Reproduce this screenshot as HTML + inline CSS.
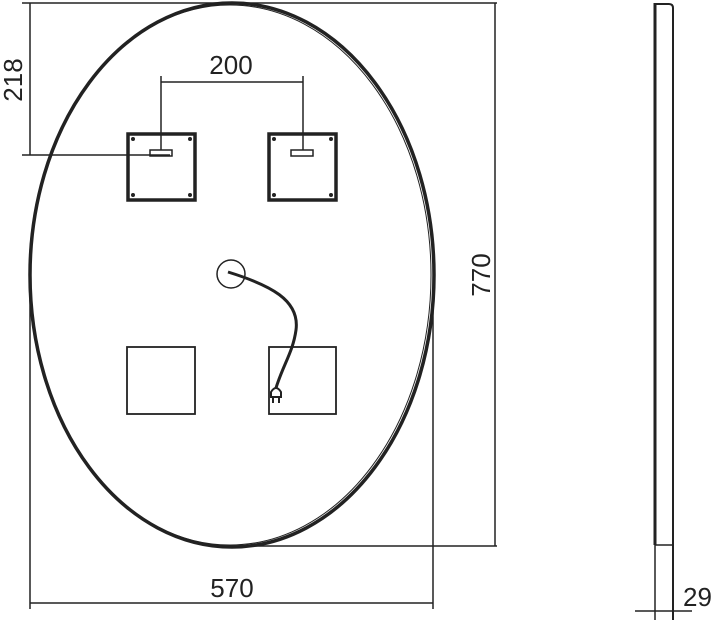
<!DOCTYPE html>
<html><head><meta charset="utf-8"><style>
html,body{margin:0;padding:0;background:#fff;width:715px;height:624px;overflow:hidden}
text{font-family:"Liberation Sans",sans-serif;fill:#222}
</style></head><body>
<svg width="715" height="624" viewBox="0 0 715 624" xmlns="http://www.w3.org/2000/svg">
<g stroke="#222" fill="none">
<!-- dimension lines -->
<g stroke-width="1.5">
<line x1="22" y1="3" x2="497" y2="3"/>
<line x1="495" y1="3" x2="495" y2="546"/>
<line x1="232" y1="546" x2="497" y2="546"/>
<line x1="30" y1="3" x2="30" y2="155"/>
<line x1="22" y1="155" x2="170" y2="155"/>
<line x1="30" y1="300" x2="30" y2="609"/>
<line x1="433" y1="300" x2="433" y2="609"/>
<line x1="30" y1="603" x2="433" y2="603"/>
<line x1="161" y1="82" x2="303" y2="82"/>
<line x1="161" y1="76" x2="161" y2="150"/>
<line x1="303" y1="76" x2="303" y2="150"/>
</g>
<!-- ellipse -->
<ellipse cx="232" cy="275" rx="202" ry="272" stroke-width="3.5"/>
<ellipse cx="230" cy="275" rx="201" ry="270" stroke-width="1"/>
<!-- top squares -->
<rect x="128" y="134" width="67" height="66" stroke-width="3.5"/>
<rect x="269" y="134" width="67" height="66" stroke-width="3.5"/>
<rect x="150" y="150" width="22" height="6" stroke-width="1.5"/>
<rect x="291" y="150" width="22" height="6" stroke-width="1.5"/>
<g fill="#222" stroke="none">
<circle cx="133" cy="139" r="2"/><circle cx="190" cy="139" r="2"/><circle cx="133" cy="195" r="2"/><circle cx="190" cy="195" r="2"/>
<circle cx="274" cy="139" r="2"/><circle cx="331" cy="139" r="2"/><circle cx="274" cy="195" r="2"/><circle cx="331" cy="195" r="2"/>
</g>
<!-- bottom squares -->
<rect x="127" y="347" width="68" height="67" stroke-width="1.8"/>
<rect x="269" y="347" width="67" height="67" stroke-width="1.8"/>
<!-- cable -->
<circle cx="231" cy="274" r="14" stroke-width="1.5"/>
<path d="M228,272 C270,285 300,300 296,330 C293,352 283,365 276,388" stroke-width="3"/>
<path d="M271,397 L271,392 Q276,384 281,392 L281,397 Z" stroke-width="2"/>
<line x1="273" y1="397" x2="273" y2="403" stroke-width="2"/>
<line x1="279" y1="397" x2="279" y2="403" stroke-width="2"/>
<!-- side view -->
<line x1="655" y1="3" x2="655" y2="545" stroke-width="3"/>
<path d="M656,4 L669,4 Q673,4 673,8 L673,620" stroke-width="2"/>
<line x1="655" y1="545" x2="673" y2="545" stroke-width="1.5"/>
<line x1="655" y1="545" x2="655" y2="620" stroke-width="1.5"/>
<line x1="635" y1="611" x2="692" y2="611" stroke-width="1.5"/>
</g>
<text x="231" y="74" font-size="26" text-anchor="middle">200</text>
<text x="232" y="597" font-size="26" text-anchor="middle">570</text>
<text x="683" y="606" font-size="26">29</text>
<text transform="translate(22,80) rotate(-90)" font-size="26" text-anchor="middle">218</text>
<text transform="translate(490,275) rotate(-90)" font-size="26" text-anchor="middle">770</text>
</svg>
</body></html>
